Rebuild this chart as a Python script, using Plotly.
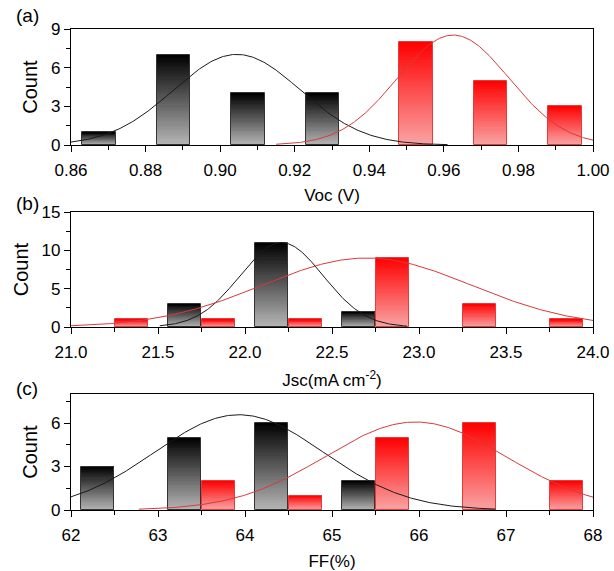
import numpy as np
import plotly.graph_objects as go

# ---------------- data ----------------
# (a) Voc (V)
voc_black_x = [0.8675, 0.8875, 0.9075, 0.9275]
voc_black_n = [1, 7, 4, 4]
voc_red_x = [0.9525, 0.9725, 0.9925]
voc_red_n = [8, 5, 3]
voc_black_fit = [0.9045, 0.017, 7.03, 0.86, 0.961]   # mu, sigma, amplitude, x start, x end
voc_red_fit = [0.9625, 0.015, 8.53, 0.915, 1.00]

# (b) Jsc (mA cm-2)
jsc_black_x = [21.65, 22.15, 22.65]
jsc_black_n = [3, 11, 2]
jsc_red_x = [21.35, 21.85, 22.35, 22.85, 23.35, 23.85]
jsc_red_n = [1, 1, 1, 9, 3, 1]
jsc_black_fit = [22.21, 0.24, 11.0, 21.51, 22.93]
jsc_red_fit = [22.70, 0.60, 9.0, 21.0, 24.0]

# (c) FF (%)
ff_black_x = [62.3, 63.3, 64.3, 65.3]
ff_black_n = [3, 5, 6, 2]
ff_red_x = [63.7, 64.7, 65.7, 66.7, 67.7]
ff_red_n = [2, 1, 5, 6, 2]
ff_black_fit = [63.93, 0.97, 6.57, 62.0, 66.88]
ff_red_fit = [65.96, 1.04, 6.07, 62.78, 68.0]

panel_labels = ["(a)", "(b)", "(c)"]
x_titles = ["Voc (V)", "Jsc(mA cm<sup>-2</sup>)", "FF(%)"]

# ---------------- helpers ----------------
FONT = "Liberation Sans, Arial, sans-serif"
BLACK_TOP, BLACK_BOT = (0, 0, 0), (182, 182, 182)
RED_TOP, RED_BOT = (255, 0, 0), (249, 164, 164)


def rgb(c):
    return "rgb(%d,%d,%d)" % tuple(int(round(v)) for v in c)


def add_gradient_bars(fig, x, h, width, top, bot, line_color, xa, ya, n=40):
    h = np.asarray(h, dtype=float)
    for k in range(n):
        t = (k + 0.5) / n
        col = [b + (tp - b) * t for tp, b in zip(top, bot)]
        base = h * k / n
        fig.add_trace(go.Bar(
            x=x, y=h - base, base=base, width=width,
            marker=dict(color=rgb(col), line=dict(width=0)),
            xaxis=xa, yaxis=ya, showlegend=False, hoverinfo="skip"))
    fig.add_trace(go.Bar(
        x=x, y=h, width=width,
        marker=dict(color="rgba(0,0,0,0)", line=dict(color=line_color, width=1)),
        xaxis=xa, yaxis=ya, showlegend=False, hoverinfo="skip"))


def add_fit(fig, p, color, xa, ya):
    mu, sg, amp, x0, x1 = p
    xs = np.linspace(x0, x1, 300)
    ys = amp * np.exp(-(xs - mu) ** 2 / (2 * sg ** 2))
    fig.add_trace(go.Scatter(x=xs, y=ys, mode="lines",
                             line=dict(color=color, width=1),
                             xaxis=xa, yaxis=ya, showlegend=False, hoverinfo="skip"))


fig = go.Figure()

panels = [
    (voc_black_x, voc_black_n, voc_red_x, voc_red_n, voc_black_fit, voc_red_fit, 0.009),
    (jsc_black_x, jsc_black_n, jsc_red_x, jsc_red_n, jsc_black_fit, jsc_red_fit, 0.19),
    (ff_black_x, ff_black_n, ff_red_x, ff_red_n, ff_black_fit, ff_red_fit, 0.38),
]

for i, (bx, bn, rx, rn, bf, rf, w) in enumerate(panels):
    xa = "x" if i == 0 else "x%d" % (i + 1)
    ya = "y" if i == 0 else "y%d" % (i + 1)
    add_gradient_bars(fig, bx, bn, w, BLACK_TOP, BLACK_BOT, "#333333", xa, ya)
    add_gradient_bars(fig, rx, rn, w, RED_TOP, RED_BOT, "#e23c3c", xa, ya)
    add_fit(fig, bf, "#1a1a1a", xa, ya)
    add_fit(fig, rf, "#d8393b", xa, ya)

# axes
W, H = 614, 571
ml, mr, mt, mb = 71, 21, 29, 61
ph = H - mt - mb
def frac(py):
    return (H - mb - py) / ph

y_domains = [(frac(145), 1.0), (frac(327), frac(212)), (0.0, frac(394))]
x_ranges = [(0.86, 1.00), (21.0, 24.0), (62, 68)]
x_dticks = [0.02, 0.5, 1]
x_formats = [".2f", ".1f", "d"]
y_ranges = [(0, 9), (0, 15), (0, 8)]
y_tickvals = [[0, 3, 6, 9], [0, 5, 10, 15], [0, 3, 6]]
y_minor = [1.5, 2.5, 1.5]
x_standoffs = [10, 13, 12]

axis_common = dict(showline=True, linecolor="black", linewidth=1.3, mirror=True,
                   ticks="outside", ticklen=6, tickwidth=1.2, tickcolor="black",
                   showgrid=False, zeroline=False, automargin=False,
                   tickfont=dict(family=FONT, size=17, color="black"))

layout = {}
for i in range(3):
    xk = "xaxis" if i == 0 else "xaxis%d" % (i + 1)
    yk = "yaxis" if i == 0 else "yaxis%d" % (i + 1)
    yref = "y" if i == 0 else "y%d" % (i + 1)
    xref = "x" if i == 0 else "x%d" % (i + 1)
    layout[xk] = dict(axis_common, anchor=yref, domain=[0, 1], range=list(x_ranges[i]),
                      tick0=x_ranges[i][0], dtick=x_dticks[i], tickformat=x_formats[i],
                      ticklabelstandoff=3,
                      minor=dict(ticks="outside", ticklen=4, tickcolor="black",
                                 dtick=x_dticks[i] / 2, tick0=x_ranges[i][0]),
                      title=dict(text=x_titles[i], font=dict(family=FONT, size=17, color="black"),
                                 standoff=x_standoffs[i]))
    layout[yk] = dict(axis_common, anchor=xref, domain=list(y_domains[i]), range=list(y_ranges[i]),
                      tickvals=y_tickvals[i],
                      minor=dict(ticks="outside", ticklen=4, tickcolor="black",
                                 dtick=y_minor[i], tick0=0),
                      title=dict(text="Count", font=dict(family=FONT, size=20, color="black"),
                                 standoff=7))

label_y = [15, 203, 388]
annotations = []
for i, lab in enumerate(panel_labels):
    annotations.append(dict(text=lab, xref="paper", yref="paper",
                            x=(27 - ml) / (W - ml - mr), y=frac(label_y[i]),
                            xanchor="center", yanchor="middle", showarrow=False,
                            font=dict(family=FONT, size=19, color="black")))

fig.update_layout(
    width=W, height=H, margin=dict(l=ml, r=mr, t=mt, b=mb, autoexpand=False),
    paper_bgcolor="white", plot_bgcolor="white",
    barmode="overlay", bargap=0, annotations=annotations,
    font=dict(family=FONT, color="black"),
    **layout)

fig.write_html("out.html")
